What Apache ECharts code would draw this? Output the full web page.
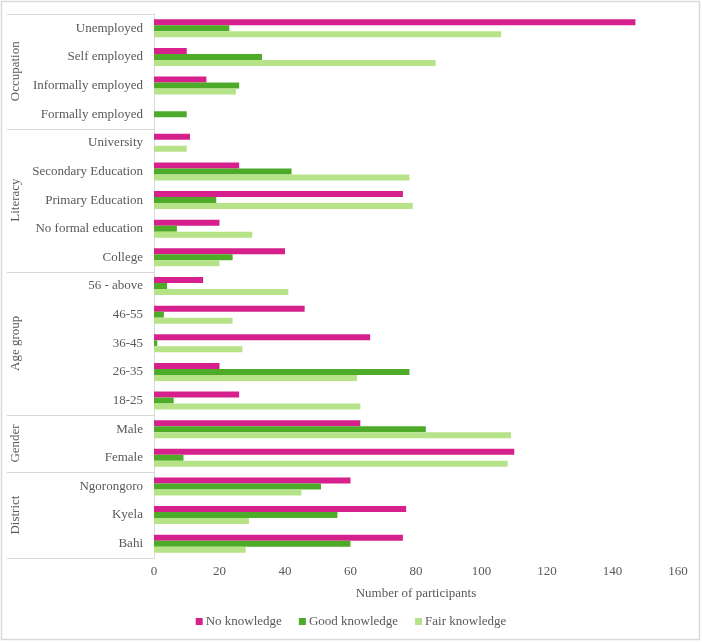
<!DOCTYPE html>
<html>
<head>
<meta charset="utf-8">
<script src="https://cdn.jsdelivr.net/npm/echarts@6/dist/echarts.min.js"></script>
<style>
  html, body { margin: 0; padding: 0; background: #fff; }
  #chart { width: 702px; height: 642px; }
</style>
</head>
<body>
<div id="chart"></div>
<script>
// categories listed top to bottom
const categories = [
  "Unemployed", "Self employed", "Informally employed", "Formally employed",
  "University", "Secondary Education", "Primary Education", "No formal education", "College",
  "56 - above", "46-55", "36-45", "26-35", "18-25",
  "Male", "Female",
  "Ngorongoro", "Kyela", "Bahi"
];
const groupNames = ["Occupation", "Literacy", "Age group", "Gender", "District"];
const groupSizes = [4, 5, 5, 2, 3];

const noKnowledge   = [147, 10, 16, 0, 11, 26, 76, 20, 40, 15, 46, 66, 20, 26, 63, 110, 60, 77, 76];
const goodKnowledge = [23, 33, 26, 10, 0, 42, 19, 7, 24, 4, 3, 1, 78, 6, 83, 9, 51, 56, 60];
const fairKnowledge = [106, 86, 25, 0, 10, 78, 79, 30, 20, 41, 24, 27, 62, 63, 109, 108, 45, 29, 28];

const xTicks = { min: 0, max: 160, step: 20 };

const textColor = "#595959";
const lineColor = "#d9d9d9";
const serif = '"Liberation Serif", "Times New Roman", serif';

const chart = echarts.init(document.getElementById("chart"));

const option = {
  animation: false,
  backgroundColor: "#fff",
  textStyle: { fontFamily: serif, color: textColor },
  grid: { left: 154, right: 24, top: 14, bottom: 84 },
  legend: {
    bottom: 9,
    left: "center",
    itemWidth: 7,
    itemHeight: 7,
    itemGap: 17,
    icon: "rect",
    textStyle: { fontFamily: serif, fontSize: 13, color: textColor, padding: [0, 0, 0, -2] },
    data: ["No knowledge", "Good knowledge", "Fair knowledge"]
  },
  xAxis: {
    type: "value",
    min: xTicks.min,
    max: xTicks.max,
    interval: xTicks.step,
    splitLine: { show: false },
    axisLine: { show: false },
    axisTick: { show: false },
    axisLabel: { fontFamily: serif, fontSize: 13, color: textColor, margin: 7 },
    name: "Number of participants",
    nameLocation: "middle",
    nameGap: 29,
    nameTextStyle: { fontFamily: serif, fontSize: 13, color: textColor }
  },
  yAxis: {
    type: "category",
    inverse: true,
    data: categories,
    axisLine: { show: true, lineStyle: { color: lineColor, width: 1 } },
    axisTick: { show: false },
    axisLabel: { fontFamily: serif, fontSize: 13, color: textColor, margin: 11 }
  },
  series: [
    { name: "No knowledge", type: "bar", data: noKnowledge, barWidth: 6, barGap: "0%",
      itemStyle: { color: "#d6218d" } },
    { name: "Good knowledge", type: "bar", data: goodKnowledge, barWidth: 6, barGap: "0%",
      itemStyle: { color: "#4dab29" } },
    { name: "Fair knowledge", type: "bar", data: fairKnowledge, barWidth: 6, barGap: "0%",
      itemStyle: { color: "#b6e388" } }
  ]
};

chart.setOption(option);

// group separators and rotated group labels, placed from the category axis
const yPos = (name) => chart.convertToPixel({ yAxisIndex: 0 }, name);
const band = yPos(categories[1]) - yPos(categories[0]);
const axisX = chart.convertToPixel({ xAxisIndex: 0 }, 0);

const graphics = [
  { type: "rect", shape: { x: 1.5, y: 1.5, width: 698, height: 638 },
    style: { fill: "none", stroke: lineColor, lineWidth: 1.5 }, silent: true }
];

let idx = 0;
groupNames.forEach((g, i) => {
  const first = categories[idx];
  const last = categories[idx + groupSizes[i] - 1];
  const top = yPos(first) - band / 2;
  const bottom = yPos(last) + band / 2;
  graphics.push({
    type: "line",
    shape: { x1: 7, y1: Math.round(top) + 0.5, x2: axisX, y2: Math.round(top) + 0.5 },
    style: { stroke: lineColor, lineWidth: 1 }, silent: true
  });
  if (i === groupNames.length - 1) {
    graphics.push({
      type: "line",
      shape: { x1: 7, y1: Math.round(bottom) + 0.5, x2: axisX, y2: Math.round(bottom) + 0.5 },
      style: { stroke: lineColor, lineWidth: 1 }, silent: true
    });
  }
  graphics.push({
    type: "text",
    x: 16,
    y: (top + bottom) / 2,
    rotation: Math.PI / 2,
    style: { text: g, font: '13px ' + serif, fill: textColor, align: "center", verticalAlign: "middle" },
    silent: true
  });
  idx += groupSizes[i];
});

chart.setOption({ graphic: graphics });
</script>
</body>
</html>
